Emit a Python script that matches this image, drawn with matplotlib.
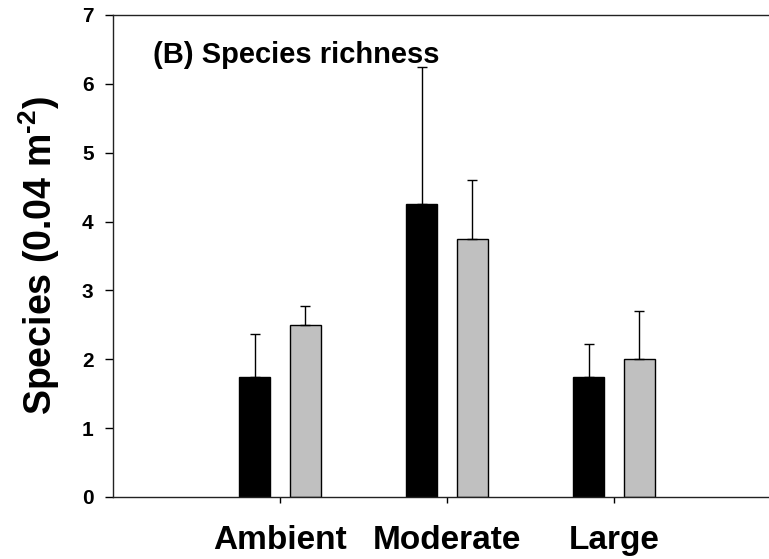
import matplotlib
matplotlib.use("Agg")
import matplotlib.pyplot as plt
import numpy as np

plt.rcParams["font.family"] = ["Liberation Sans", "DejaVu Sans"]
plt.rcParams["font.weight"] = "bold"
plt.rcParams["mathtext.fontset"] = "custom"
plt.rcParams["mathtext.rm"] = "Liberation Sans:bold"
plt.rcParams["mathtext.bf"] = "Liberation Sans:bold"

sites = ["Ambient", "Moderate", "Large"]
black_mean = [1.75, 4.25, 1.75]
black_err = [0.61, 2.0, 0.47]
grey_mean = [2.5, 3.75, 2.0]
grey_err = [0.28, 0.85, 0.7]

x = np.arange(1, len(sites) + 1)
width = 0.186
offset = 0.152

fig = plt.figure(figsize=(7.69, 5.59), dpi=100)
# x runs 0..4; the axes box sticks out past the right edge of the figure
ax = fig.add_axes([113 / 769, 62 / 559, 668 / 769, 482 / 559])

err_style = dict(ecolor="black", elinewidth=1.0, capsize=3.8, capthick=1.0)
ax.bar(x - offset, black_mean, width, color="black", edgecolor="black", linewidth=1.0,
       yerr=[np.zeros(3), black_err], error_kw=err_style, zorder=2)
ax.bar(x + offset, grey_mean, width, color="#c0c0c0", edgecolor="black", linewidth=1.0,
       yerr=[np.zeros(3), grey_err], error_kw=err_style, zorder=2)

ax.set_xlim(0, 4)
ax.set_ylim(0, 7)
ax.set_yticks(range(0, 8))
ax.set_xticks(x)
ax.set_xticklabels(sites, fontsize=24, fontweight="bold")
ax.tick_params(axis="y", direction="out", length=6, width=1, labelsize=15, pad=8)
ax.tick_params(axis="x", direction="out", length=4, width=1, pad=16)

for s in ax.spines.values():
    s.set_linewidth(1.0)
    s.set_color("#222222")

ax.set_ylabel("Species (0.04 m$^{\\mathbf{\u2010}\\mathbf{2}}$)", fontsize=27,
              fontweight="bold", labelpad=14)
ax.text(0.24, 6.42, "(B) Species richness", fontsize=21, fontweight="bold",
        va="center", ha="left")

fig.savefig("out.png", dpi=100)
